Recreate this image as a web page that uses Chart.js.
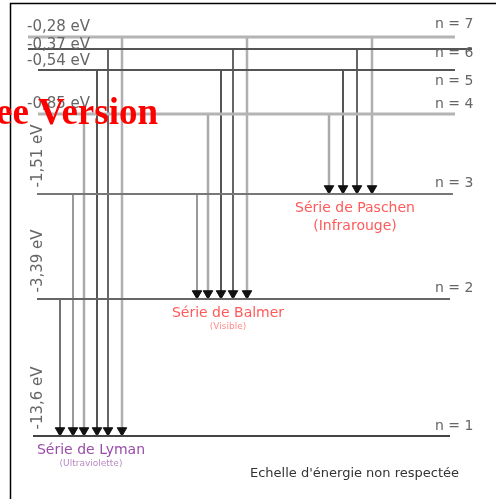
<!DOCTYPE html>
<html>
<head>
<meta charset="utf-8">
<script src="https://cdn.jsdelivr.net/npm/chart.js@4/dist/chart.umd.min.js"></script>
<style>
  html, body { margin: 0; padding: 0; background: #fff; }
  #boite { width: 496px; height: 499px; }
</style>
</head>
<body>
<div id="boite"><canvas id="grafica" width="496" height="499"></canvas></div>
<script>
// niveaux d'energie de l'hydrogene (echelle non respectee)
const niveaux = [1, 2, 3, 4, 5, 6, 7];
const energies = ['-13,6 eV', '-3,39 eV', '-1,51 eV', '-0,85 eV', '-0,54 eV', '-0,37 eV', '-0,28 eV'];
const hauteurs = [0, 137, 242, 322, 366, 387, 399];   // hauteur du niveau sur le schema
const debutNiveau = [33, 37, 37, 38, 38, 28, 28];
const finNiveau = [450, 450, 453, 455, 455, 472, 455];

const series = ['Série de Lyman', 'Série de Balmer', 'Série de Paschen'];
const domaines = ['(Ultraviolette)', '(Visible)', '(Infrarouge)'];
const niveauFinal = [1, 2, 3];
// colonne de chaque transition, depuis n = niveauFinal+1 jusqu'a n = 7
const colonnes = [
    [60, 73, 84, 97, 108, 122],
    [197, 208, 221, 233, 247],
    [329, 343, 357, 372]
];

const couleurNiveau = ['#444', '#666', '#777', '#b4b4b4', '#555', '#555', '#b4b4b4'];
const largeurNiveau = [2, 2, 2, 3, 2, 2, 3];
const couleurFleche = { 2: '#444', 3: '#999', 4: '#aaa', 5: '#555', 6: '#666', 7: '#b0b0b0' };
const largeurFleche = { 2: 1.5, 3: 2, 4: 2.5, 5: 2, 6: 2, 7: 2.5 };

const datasets = [];
niveaux.forEach((n, i) => {
    datasets.push({
        data: [{ x: debutNiveau[i], y: hauteurs[i] }, { x: finNiveau[i], y: hauteurs[i] }],
        borderColor: couleurNiveau[i],
        borderWidth: largeurNiveau[i],
        pointRadius: 0
    });
});
colonnes.forEach((cols, s) => {
    const bas = niveauFinal[s];
    cols.forEach((x, k) => {
        const haut = bas + 1 + k;
        datasets.push({
            data: [{ x: x, y: hauteurs[haut - 1] }, { x: x, y: hauteurs[bas - 1] + 5.5 }],
            borderColor: couleurFleche[haut],
            borderWidth: largeurFleche[haut],
            pointRadius: [0, 5.5],
            pointStyle: 'triangle',
            rotation: 180,
            pointBackgroundColor: '#111',
            pointBorderColor: '#111',
            pointBorderWidth: 1
        });
    });
});

const textes = {
    id: 'textes',
    afterDraw(chart) {
        const ctx = chart.ctx;
        const y = chart.scales.y;
        ctx.save();
        // cadre
        ctx.strokeStyle = '#000';
        ctx.lineWidth = 1.5;
        ctx.strokeRect(10.5, 3.5, 600, 600);

        // etiquettes n = ...
        const decalN = [-10, -11, -11, -10, 11, 4, -13];
        ctx.fillStyle = '#666';
        ctx.font = '14px "DejaVu Sans"';
        ctx.textBaseline = 'middle';
        ctx.textAlign = 'left';
        niveaux.forEach((n, i) => {
            ctx.fillText('n = ' + n, 435, y.getPixelForValue(hauteurs[i]) + decalN[i]);
        });

        // energies
        ctx.font = '15px "DejaVu Sans"';
        const decalE = [0, 0, 0, -10, -9, -4, -10];
        energies.forEach((e, i) => {
            const py = y.getPixelForValue(hauteurs[i]);
            if (i >= 3) {
                ctx.textAlign = 'left';
                ctx.fillText(e, 27, py + decalE[i]);
            } else {
                ctx.save();
                ctx.translate(38, py - 38);
                ctx.rotate(-Math.PI / 2);
                ctx.textAlign = 'center';
                ctx.fillText(e, 0, 0);
                ctx.restore();
            }
        });

        // noms des series
        const centres = [91, 228, 355];
        const couleurs = ['#9a4caa', '#ff5a5a', '#ff5a5a'];
        const clairs = ['#b88ac4', '#ff8a8a', '#ff5a5a'];
        const taillesDom = [9, 9, 14];
        ctx.textAlign = 'center';
        series.forEach((s, i) => {
            const py = y.getPixelForValue(hauteurs[niveauFinal[i] - 1]);
            ctx.fillStyle = couleurs[i];
            ctx.font = '14px "DejaVu Sans"';
            ctx.fillText(s, centres[i], py + 14);
            ctx.fillStyle = clairs[i];
            ctx.font = taillesDom[i] + 'px "DejaVu Sans"';
            ctx.fillText(domaines[i], centres[i], py + (taillesDom[i] > 10 ? 32 : 28));
        });

        ctx.fillStyle = '#333';
        ctx.font = '13px "DejaVu Sans"';
        ctx.textAlign = 'left';
        ctx.fillText("Echelle d'énergie non respectée", 250, 474);

        // filigrane
        ctx.fillStyle = '#ff0000';
        ctx.font = 'bold 37px "Liberation Serif"';
        ctx.textAlign = 'right';
        ctx.textBaseline = 'alphabetic';
        ctx.fillText('Free Version', 158, 124);
        ctx.restore();
    }
};

new Chart(document.querySelector('#grafica'), {
    type: 'line',
    data: { datasets: datasets },
    options: {
        responsive: false,
        animation: false,
        layout: { padding: 0, autoPadding: false },
        scales: {
            x: { type: 'linear', min: 0, max: 496, display: false },
            y: { type: 'linear', min: -63, max: 436, display: false }
        },
        plugins: {
            legend: { display: false },
            tooltip: { enabled: false }
        }
    },
    plugins: [textes]
});
</script>
</body>
</html>
